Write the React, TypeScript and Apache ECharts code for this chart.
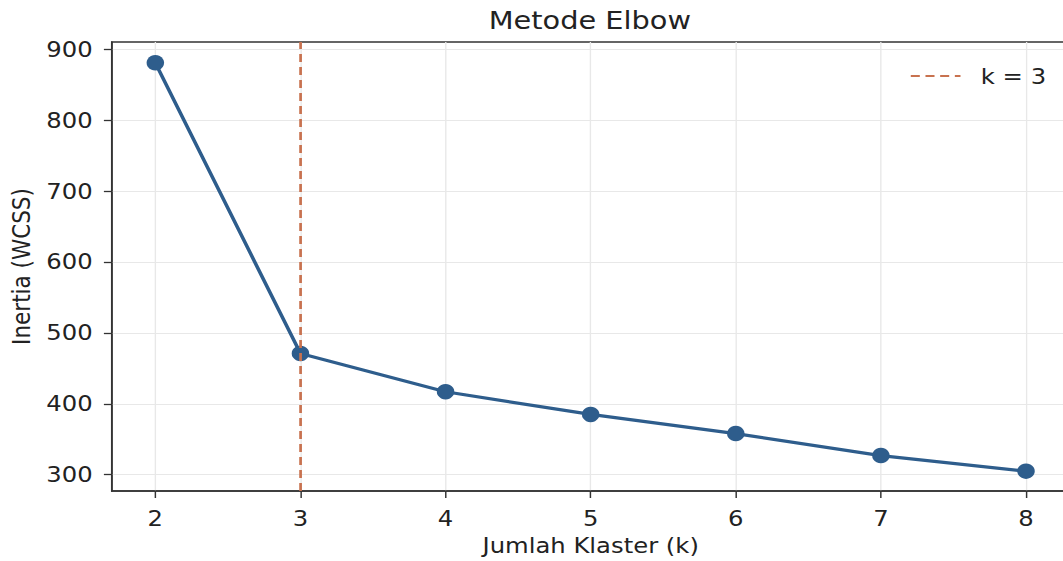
import React, { useEffect, useRef } from "react";
import * as echarts from "echarts";

const kValues = [2, 3, 4, 5, 6, 7, 8];
const inertia = [881, 471, 417, 385, 358, 327, 305];
const yTicks = [300, 400, 500, 600, 700, 800, 900];
const xTicks = [2, 3, 4, 5, 6, 7, 8];
const elbowK = 3;
const titleText = "Metode Elbow";
const xName = "Jumlah Klaster (k)";
const yName = "Inertia (WCSS)";
const legendName = "k = 3";

const SX = 1.13;
const FONT = "DejaVu Sans";

export default function App() {
  const ref = useRef<HTMLDivElement>(null);
  useEffect(() => {
    if (!ref.current) return;
    const chart = echarts.init(ref.current, null, { renderer: "svg" });
    const points = kValues.map((k, i) => [k, inertia[i]]);
    const axisColor = "#333333";
    const textColor = "#222222";
    chart.setOption({
      animation: false,
      backgroundColor: "#ffffff",
      textStyle: { fontFamily: FONT },
      graphic: [
        {
          type: "text",
          x: 522,
          y: 20,
          style: {
            text: titleText,
            fontFamily: FONT,
            fontSize: 25.5,
            fill: textColor,
            align: "center",
            verticalAlign: "middle",
          },
        },
      ],
      legend: {
        data: [legendName],
        left: 805,
        top: 65,
        padding: 0,
        itemWidth: 44,
        itemHeight: 14,
        itemStyle: { color: "transparent", borderColor: "transparent", borderWidth: 0, opacity: 0 },
        textStyle: {
          fontFamily: FONT,
          fontSize: 21.5,
          color: textColor,
          padding: [0, 0, 0, 13],
        },
      },
      grid: {
        left: 97,
        top: 42,
        width: 849.5,
        bottom: 67,
        show: true,
        borderColor: axisColor,
        borderWidth: 1.5,
        backgroundColor: "transparent",
      },
      xAxis: {
        type: "value",
        min: 1.7,
        max: 8.3,
        name: xName,
        nameLocation: "middle",
        nameGap: 43,
        nameTextStyle: { fontFamily: FONT, fontSize: 21.5, color: textColor },
        axisLine: { show: true, lineStyle: { color: axisColor, width: 1.5 } },
        axisTick: {
          show: true,
          length: 7,
          customValues: xTicks,
          lineStyle: { color: axisColor, width: 1.3 },
        },
        axisLabel: {
          customValues: xTicks,
          margin: 16,
          fontFamily: FONT,
          fontSize: 21.5,
          color: textColor,
        },
        splitLine: { show: true, lineStyle: { color: "#e8e8e8", width: 1.2 } },
      },
      yAxis: {
        type: "value",
        min: 277,
        max: 910.3,
        name: yName,
        nameLocation: "middle",
        nameGap: 67,
        nameRotate: 90,
        nameTextStyle: { fontFamily: FONT, fontSize: 21.5, color: textColor },
        axisLine: { show: true, lineStyle: { color: axisColor, width: 1.5 } },
        axisTick: {
          show: true,
          length: 7,
          customValues: yTicks,
          lineStyle: { color: axisColor, width: 1.3 },
        },
        axisLabel: {
          customValues: yTicks,
          margin: 17,
          fontFamily: FONT,
          fontSize: 21.5,
          color: textColor,
        },
        splitLine: { show: true, lineStyle: { color: "#e8e8e8", width: 1.2 } },
      },
      series: [
        {
          name: "Inertia",
          type: "line",
          data: points,
          symbol: "circle",
          symbolSize: 15.5,
          lineStyle: { color: "#2e5d8c", width: 3.2 },
          itemStyle: { color: "#2e5d8c" },
          z: 3,
        },
        {
          name: legendName,
          type: "line",
          data: [],
          symbol: "none",
          showSymbol: false,
          lineStyle: { color: "#c8724f", width: 2.4, type: [8, 5] },
          itemStyle: { color: "#c8724f" },
          z: 4,
          markLine: {
            silent: true,
            symbol: ["none", "none"],
            label: { show: false },
            lineStyle: { color: "#c8724f", width: 2.4, type: [8, 5] },
            data: [{ xAxis: elbowK }],
          },
        },
      ],
    });
    return () => chart.dispose();
  }, []);
  return (
    <div
      style={{
        position: "absolute",
        left: 0,
        top: 0,
        width: 1063,
        height: 561,
        overflow: "hidden",
        background: "#fff",
      }}
    >
      <div
        ref={ref}
        style={{
          width: 960,
          height: 561,
          transform: `scaleX(${SX})`,
          transformOrigin: "0 0",
        }}
      />
    </div>
  );
}
